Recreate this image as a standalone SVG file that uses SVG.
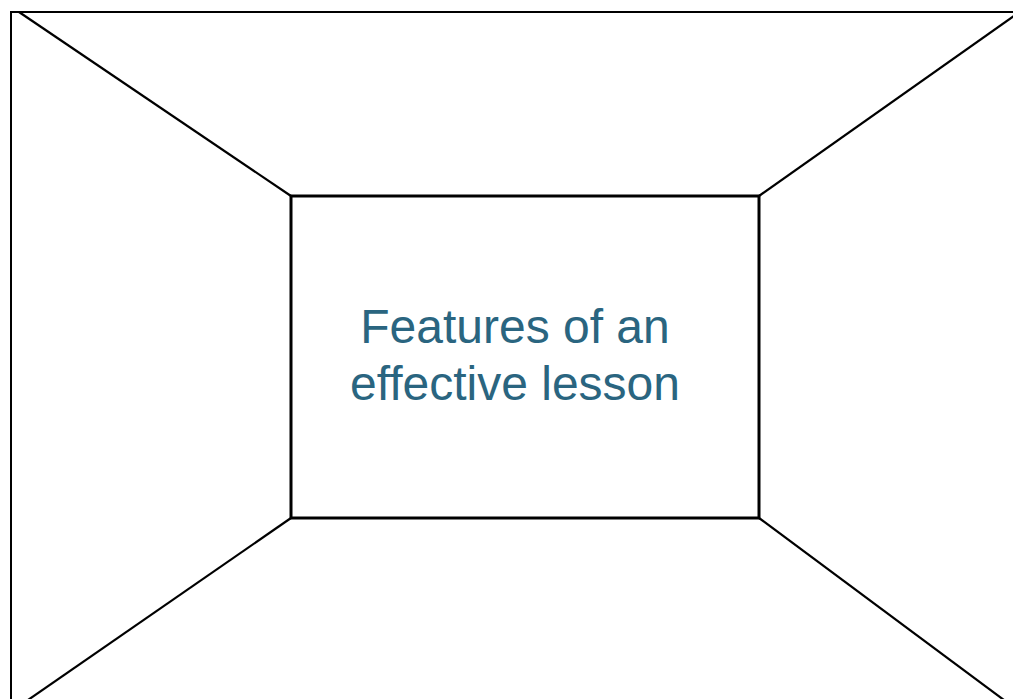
<svg xmlns="http://www.w3.org/2000/svg" width="1013" height="699" viewBox="0 0 1013 699">
  <style>
    .frame { fill: none; stroke: #000; stroke-width: 2; }
    .box { fill: #fff; stroke: #000; stroke-width: 3; }
    .edge { stroke: #000; stroke-width: 2.2; fill: none; }
    .label { font-family: "Liberation Sans", Arial, sans-serif; font-size: 48px; fill: #2a6580; text-anchor: middle; }
  </style>
  <rect x="0" y="0" width="1013" height="699" fill="#fff"/>
  <g id="frame">
    <rect class="frame" x="11" y="12" width="1012" height="700"/>
  </g>
  <g id="connectors">
    <line class="edge" x1="19" y1="12" x2="291" y2="196"/>
    <line class="edge" x1="1014" y1="16" x2="759" y2="196"/>
    <line class="edge" x1="28" y1="700" x2="291" y2="518"/>
    <line class="edge" x1="1012" y1="706" x2="759" y2="518"/>
  </g>
  <g id="center-node">
    <rect class="box" x="291" y="196" width="468" height="322"/>
    <text class="label" x="515" y="343">Features of an</text>
    <text class="label" x="515" y="400">effective lesson</text>
  </g>
</svg>
